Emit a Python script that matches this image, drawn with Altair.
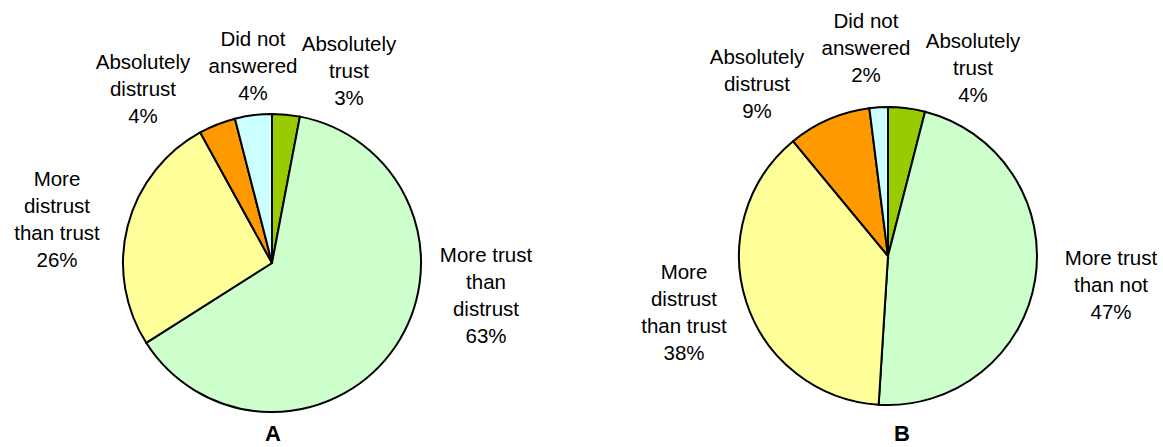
import math
import altair as alt
import pandas as pd

categories = ["Absolutely trust", "More trust than distrust", "More distrust than trust",
              "Absolutely distrust", "Did not answered"]
colors = ["#99CC00", "#CCFFCC", "#FFFF99", "#FF9900", "#CCFFFF"]

values_a = [3, 63, 26, 4, 4]
values_b = [4, 47, 38, 9, 2]

label_text_a = ["Absolutely\ntrust", "More trust\nthan\ndistrust", "More\ndistrust\nthan trust",
                "Absolutely\ndistrust", "Did not\nanswered"]
label_text_b = ["Absolutely\ntrust", "More trust\nthan not", "More\ndistrust\nthan trust",
                "Absolutely\ndistrust", "Did not\nanswered"]

# layout (pixels): label anchor = centre of first text line
center_a = (272, 263)
center_b = (888, 256)
radius = 149
label_pos_a = [(349, 45), (486, 256), (57, 180), (143, 63), (253, 40)]
label_pos_b = [(973, 42), (1111, 259), (684, 273), (757, 58), (866, 22)]
title_pos = {"A": (273, 434), "B": (902, 434)}

rows = []
labels = []
for panel, vals, texts, lpos in [("A", values_a, label_text_a, label_pos_a),
                                  ("B", values_b, label_text_b, label_pos_b)]:
    start = 0
    for i, (c, v) in enumerate(zip(categories, vals)):
        rows.append({"panel": panel, "cat": c, "order": i, "value": v,
                     "start": start, "end": start + v})
        start += v
        labels.append({"panel": panel, "label": f"{texts[i]}\n{v}%",
                       "lx": lpos[i][0], "ly": lpos[i][1]})
pie_df = pd.DataFrame(rows)
lab_df = pd.DataFrame(labels)
title_df = pd.DataFrame([{"t": k, "tx": v[0], "ty": v[1]} for k, v in title_pos.items()])

theta_scale = alt.Scale(domain=[0, 100], range=[0, 2 * math.pi])
color_scale = alt.Scale(domain=categories, range=colors)


def pie(panel, center):
    return alt.Chart(pie_df).transform_filter(
        alt.datum.panel == panel
    ).mark_arc(stroke="black", strokeWidth=2, radius=radius).encode(
        theta=alt.Theta("start:Q", scale=theta_scale),
        theta2="end:Q",
        color=alt.Color("cat:N", scale=color_scale, legend=None),
        x=alt.value(center[0]),
        y=alt.value(center[1]),
    )


labels_layer = alt.Chart(lab_df).mark_text(
    font="Liberation Sans", fontSize=20.5, lineHeight=27, align="center",
    baseline="middle", lineBreak="\n", color="black"
).encode(
    x=alt.X("lx:Q", scale=None),
    y=alt.Y("ly:Q", scale=None),
    text="label:N",
)

titles_layer = alt.Chart(title_df).mark_text(
    font="Liberation Sans", fontSize=22, fontWeight="bold", align="center",
    baseline="middle", color="black"
).encode(
    x=alt.X("tx:Q", scale=None),
    y=alt.Y("ty:Q", scale=None),
    text="t:N",
)

chart = alt.layer(
    pie("A", center_a), pie("B", center_b), labels_layer, titles_layer
).resolve_scale(theta="shared").properties(
    width=1163, height=447, padding=0, autosize=alt.AutoSizeParams(type="none"),
    background="white"
).configure_view(stroke=None)

chart.save("out.html", embed_options={"renderer": "svg", "actions": False})
